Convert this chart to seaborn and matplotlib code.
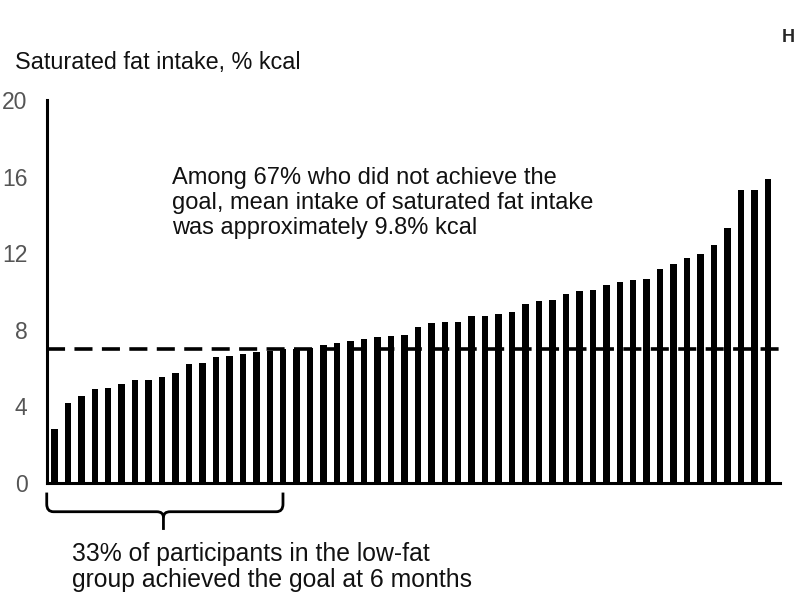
import matplotlib
matplotlib.use("Agg")
import matplotlib.pyplot as plt
import seaborn as sns
import numpy as np
import pandas as pd
from matplotlib.path import Path
from matplotlib.patches import PathPatch

# Data: saturated fat intake per participant, sorted
intake = [2.8, 4.2, 4.55, 4.93, 4.96, 5.16, 5.38, 5.4, 5.52, 5.74,
          6.23, 6.27, 6.56, 6.63, 6.75, 6.82, 6.88, 7.0, 7.02, 7.03,
          7.2, 7.3, 7.4, 7.54, 7.62, 7.66, 7.75, 8.13, 8.34, 8.39,
          8.4, 8.72, 8.72, 8.84, 8.93, 9.35, 9.5, 9.57, 9.87, 10.04,
          10.06, 10.34, 10.48, 10.58, 10.64, 11.18, 11.42, 11.77, 11.94, 12.43,
          13.32, 15.3, 15.3, 15.9]
participant = list(range(len(intake)))
goal = 7.0
yticks = [0, 4, 8, 12, 16, 20]

df = pd.DataFrame({"participant": participant, "intake": intake})

sns.set_style("white")
plt.rcParams['font.family'] = ['Liberation Sans', 'DejaVu Sans']

W, H = 800, 597
fig = plt.figure(figsize=(8, 5.97), dpi=100)
ax = fig.add_axes([47 / W, 1 - 483 / H, (780 - 47) / W, (483 - 100) / H])

sns.barplot(data=df, x="participant", y="intake", color="black",
            saturation=1, width=0.48, ax=ax, edgecolor="none")

ax.axhline(goal, color="black", lw=2.6, dashes=(5, 2.6), zorder=5)

ax.set_xlim(-0.55, 53.9)
ax.set_ylim(0, 20)
ax.set_yticks(yticks)
ax.set_yticklabels([str(t) for t in yticks], fontsize=16.5, color="#555555")
ax.set_xticks([])
ax.set_xlabel("")
ax.set_ylabel("")
for s in ["top", "right"]:
    ax.spines[s].set_visible(False)
for s in ["left", "bottom"]:
    ax.spines[s].set_linewidth(2.2)
    ax.spines[s].set_color("black")
ax.tick_params(axis="y", direction="out", length=6, width=2, color="black", pad=8)

# Brace under the first third of bars
x0, x1, xm = -0.57, 16.98, 8.1
ytop, ymid, ytip = -0.5, -1.5, -2.45
r = 0.5
verts = [(x0, ytop), (x0, ymid + 0.4), (x0, ymid), (x0 + r, ymid),
         (xm - r, ymid), (xm, ymid), (xm, ymid - 0.3), (xm, ytip)]
codes = [Path.MOVETO, Path.LINETO, Path.CURVE3, Path.CURVE3,
         Path.LINETO, Path.CURVE3, Path.CURVE3, Path.LINETO]
verts2 = [(x1, ytop), (x1, ymid + 0.4), (x1, ymid), (x1 - r, ymid),
          (xm + r, ymid), (xm, ymid), (xm, ymid - 0.3)]
codes2 = [Path.MOVETO, Path.LINETO, Path.CURVE3, Path.CURVE3,
          Path.LINETO, Path.CURVE3, Path.CURVE3]
for v, c in [(verts, codes), (verts2, codes2)]:
    ax.add_patch(PathPatch(Path(v, c), fill=False, lw=2, color="black",
                           clip_on=False, capstyle="butt"))

def ftext(x, y, s, **kw):
    fig.text(x / W, 1 - y / H, s, **kw)

ftext(15, 62, "Saturated fat intake, % kcal", fontsize=16.8, color="#111111",
      va="center", ha="left")
ftext(788, 38, "H", fontsize=13, fontweight="bold", va="center", ha="center")
ftext(172, 203, "Among 67% who did not achieve the\ngoal, mean intake of saturated fat intake\nwas approximately 9.8% kcal",
      fontsize=17, color="#111111", va="center", ha="left", linespacing=1.15)
ftext(72, 567, "33% of participants in the low-fat\ngroup achieved the goal at 6 months",
      fontsize=17.8, color="#111111", va="center", ha="left", linespacing=1.1)

fig.savefig("out.png", dpi=100, facecolor="white")
